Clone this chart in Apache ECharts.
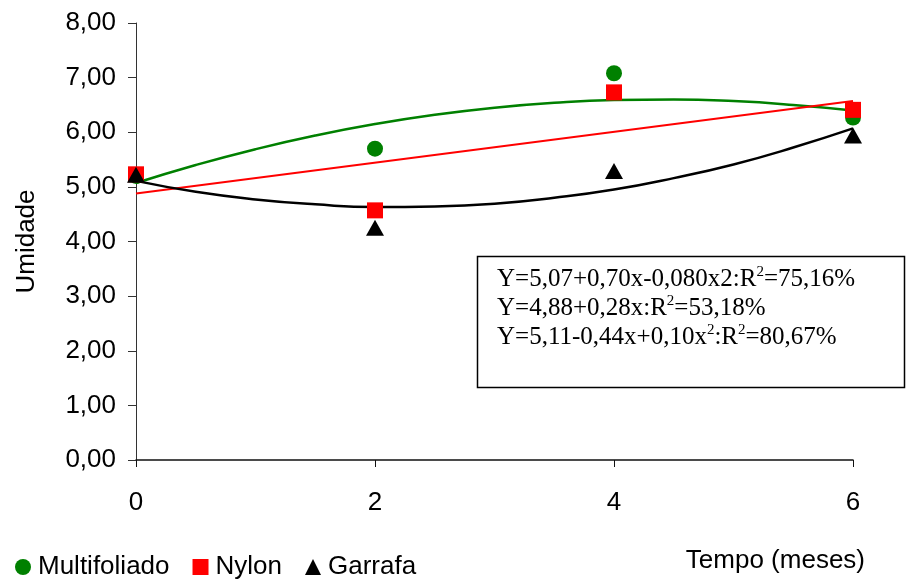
<!DOCTYPE html>
<html>
<head>
<meta charset="utf-8">
<script src="https://cdn.jsdelivr.net/npm/echarts@6/dist/echarts.min.js"></script>
<style>
  html, body { margin: 0; padding: 0; background: #fff; }
  #chart { width: 912px; height: 582px; }
</style>
</head>
<body>
<div id="chart"></div>
<script>
// observed points (tempo in meses, umidade)
const meses = [0, 2, 4, 6];
const multifoliado = [5.20, 5.70, 7.08, 6.27];
const nylon = [5.23, 4.57, 6.73, 6.41];
const garrafa = [5.22, 4.25, 5.29, 5.94];

// trend curves
const curveX = [0, 0.5, 1, 1.5, 2, 2.5, 3, 3.5, 4, 4.5, 5, 5.5, 6];
const multifoliadoFit = [5.07, 5.40, 5.69, 5.94, 6.15, 6.32, 6.45, 6.54, 6.59, 6.60, 6.57, 6.50, 6.40];
const nylonFitX = [0, 6];
const nylonFit = [4.88, 6.57];
const garrafaFit = [5.11, 4.91, 4.77, 4.68, 4.63, 4.64, 4.69, 4.80, 4.95, 5.16, 5.41, 5.72, 6.07];

const equacoes = [
  'Y=5,07+0,70x-0,080x2:R{sup|2}=75,16%',
  'Y=4,88+0,28x:R{sup|2}=53,18%',
  'Y=5,11-0,44x+0,10x{sup|2}:R{sup|2}=80,67%'
];

const pair = (xs, ys) => xs.map((x, i) => [x, ys[i]]);

var myChart = echarts.init(document.getElementById('chart'));

myChart.setOption({
    animation: false,
    grid: {
        left: 136,
        right: 59,
        top: 23,
        bottom: 122
    },
    legend: {
        left: 15,
        bottom: 2,
        padding: 0,
        itemWidth: 16,
        itemHeight: 16,
        itemGap: 23,
        textStyle: { fontFamily: 'Liberation Sans', fontSize: 26, color: '#000', padding: [0, 0, 0, 2] },
        data: [
            { name: 'Multifoliado', icon: 'circle' },
            { name: 'Nylon', icon: 'rect' },
            { name: 'Garrafa', icon: 'triangle' }
        ]
    },
    xAxis: {
        type: 'value',
        min: 0,
        max: 6,
        interval: 2,
        name: 'Tempo (meses)',
        nameLocation: 'end',
        nameGap: 12,
        nameTextStyle: {
            fontFamily: 'Liberation Sans', fontSize: 26, color: '#000',
            align: 'right', verticalAlign: 'top', padding: [88, 0, 0, 0]
        },
        splitLine: { show: false },
        axisLine: { lineStyle: { color: '#111', width: 1.5 } },
        axisTick: { length: 7, lineStyle: { color: '#111' } },
        axisLabel: {
            margin: 30,
            fontFamily: 'Liberation Sans', fontSize: 26, color: '#000'
        }
    },
    yAxis: {
        type: 'value',
        min: 0,
        max: 8,
        interval: 1,
        name: 'Umidade',
        nameLocation: 'middle',
        nameGap: 96,
        nameRotate: 90,
        nameTextStyle: { fontFamily: 'Liberation Sans', fontSize: 26, color: '#000' },
        splitLine: { show: false },
        axisLine: { show: true, lineStyle: { color: '#333', width: 1 } },
        axisTick: { show: true, length: 8, lineStyle: { color: '#333' } },
        axisLabel: {
            margin: 20,
            fontFamily: 'Liberation Sans', fontSize: 26, color: '#000',
            formatter: v => v.toFixed(2).replace('.', ',')
        }
    },
    graphic: [
        {
            type: 'rect',
            shape: { x: 477.5, y: 256.5, width: 427, height: 131 },
            style: { fill: '#fff', stroke: '#000', lineWidth: 1.5 },
            z: 1
        },
        {
            type: 'text',
            left: 497,
            top: 265,
            z: 2,
            style: {
                text: equacoes.join('\n'),
                fontFamily: 'Liberation Serif',
                fontSize: 25,
                lineHeight: 29,
                fill: '#000',
                rich: {
                    sup: { fontSize: 15, fontFamily: 'Liberation Serif', lineHeight: 29, padding: [0, 0, 12, 0], verticalAlign: 'top' }
                }
            }
        }
    ],
    series: [
        {
            name: 'MultifoliadoFit', type: 'line', smooth: true, showSymbol: false,
            data: pair(curveX, multifoliadoFit), lineStyle: { color: '#008000', width: 2.5 }, z: 3
        },
        {
            name: 'NylonFit', type: 'line', showSymbol: false,
            data: pair(nylonFitX, nylonFit), lineStyle: { color: '#ff0000', width: 2 }, z: 3
        },
        {
            name: 'GarrafaFit', type: 'line', smooth: true, showSymbol: false,
            data: pair(curveX, garrafaFit), lineStyle: { color: '#000', width: 2.5 }, z: 3
        },
        {
            name: 'Multifoliado', type: 'scatter', symbol: 'circle', symbolSize: 16,
            itemStyle: { color: '#008000', opacity: 1 }, data: pair(meses, multifoliado), z: 4
        },
        {
            name: 'Nylon', type: 'scatter', symbol: 'rect', symbolSize: 16,
            itemStyle: { color: '#ff0000', opacity: 1 }, data: pair(meses, nylon), z: 5
        },
        {
            name: 'Garrafa', type: 'scatter', symbol: 'triangle', symbolSize: [18, 16],
            itemStyle: { color: '#000', opacity: 1 }, data: pair(meses, garrafa), z: 6
        }
    ]
});
</script>
</body>
</html>
